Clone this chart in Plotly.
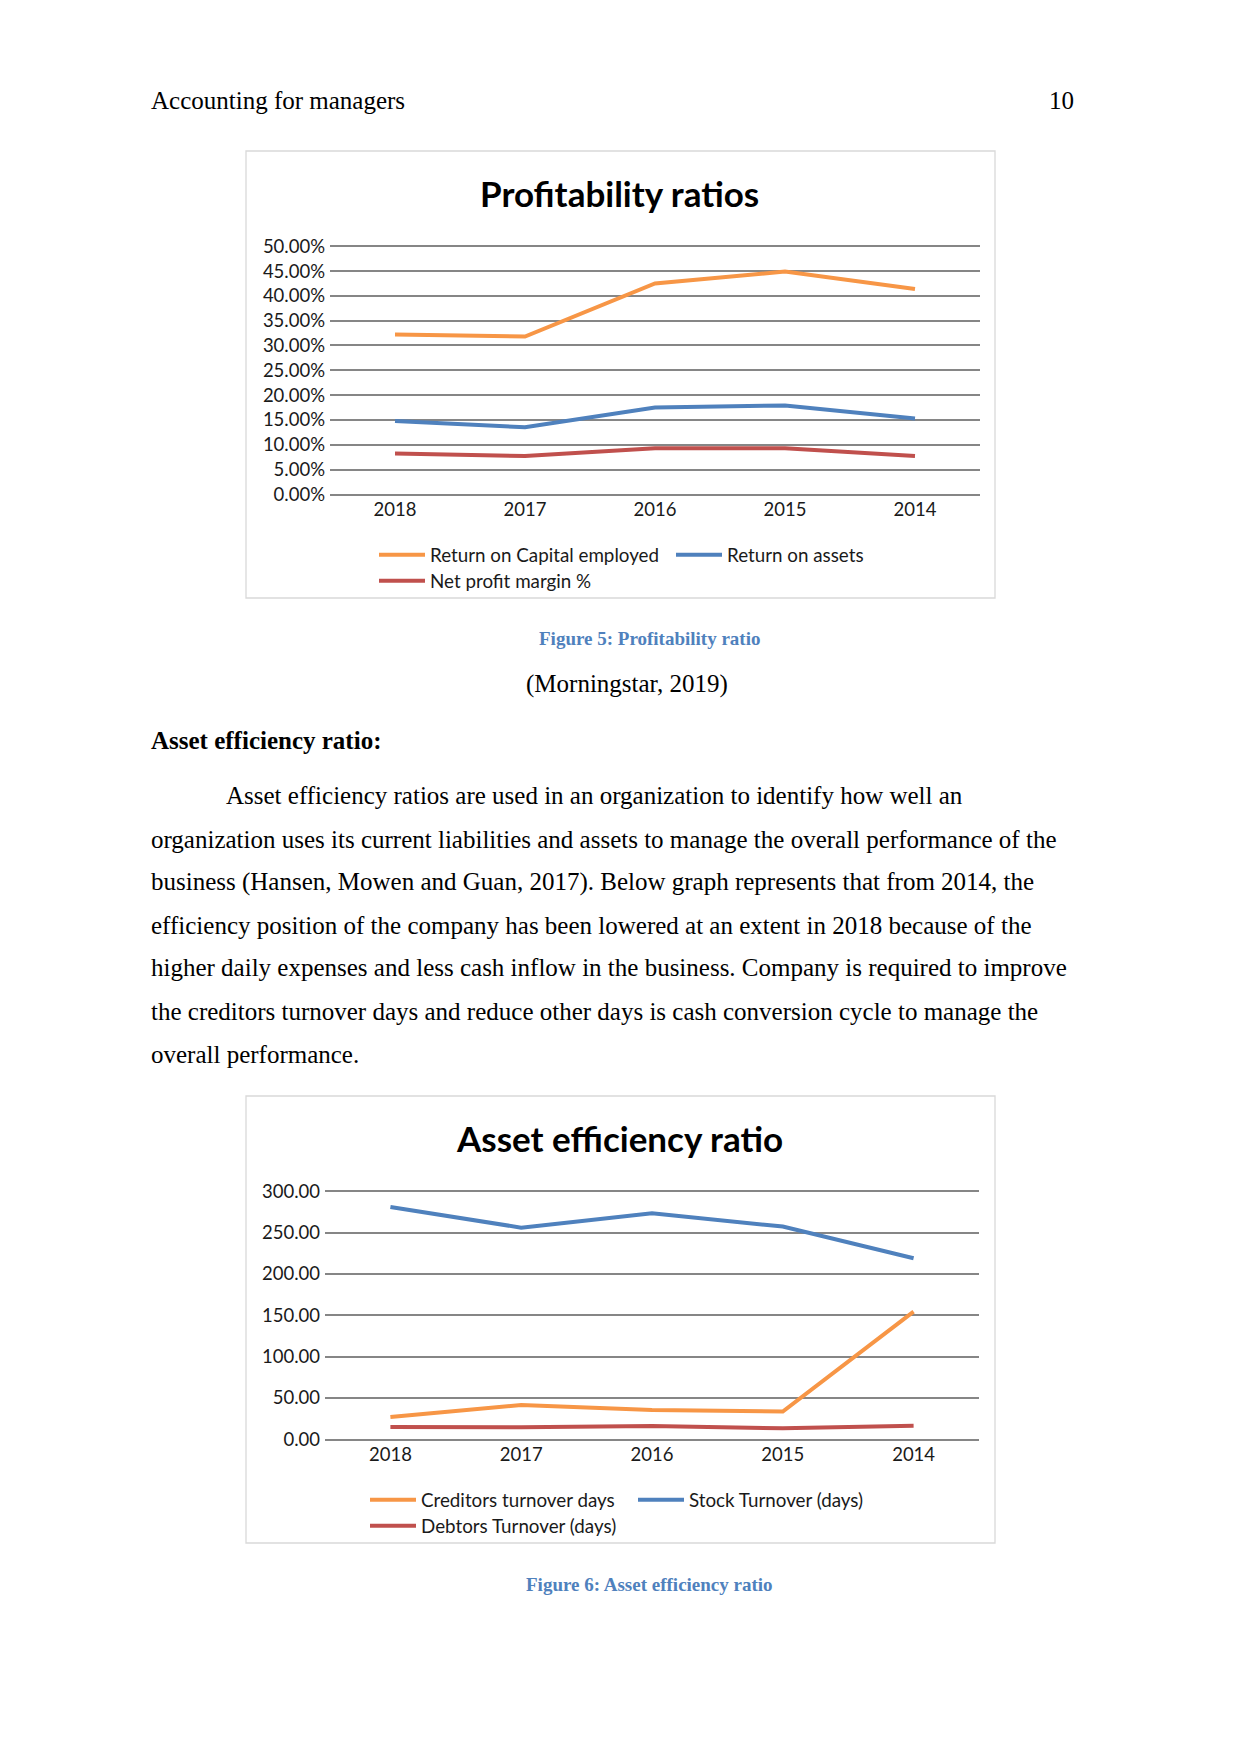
import plotly.graph_objects as go

W, H = 1241, 1754

# ---- data ----
years = ["2018", "2017", "2016", "2015", "2014"]
roce = [0.322, 0.318, 0.425, 0.449, 0.414]
roa = [0.148, 0.135, 0.175, 0.179, 0.153]
npm = [0.082, 0.077, 0.093, 0.093, 0.077]

creditors = [27.0, 41.5, 35.5, 33.5, 154.4]
stock = [281.0, 256.0, 273.4, 257.3, 219.0]
debtors = [14.9, 14.5, 16.1, 13.3, 16.5]

header_left = "Accounting for managers"
header_right = "10"
caption5 = "Figure 5: Profitability ratio"
source5 = "(Morningstar, 2019)"
heading = "Asset efficiency ratio:"
body_lines = [
    "Asset efficiency ratios are used in an organization to identify how well an",
    "organization uses its current liabilities and assets to manage the overall performance of the",
    "business (Hansen, Mowen and Guan, 2017). Below graph represents that from 2014, the",
    "efficiency position of the company has been lowered at an extent in 2018 because of the",
    "higher daily expenses and less cash inflow in the business. Company is required to improve",
    "the creditors turnover days and reduce other days is cash conversion cycle to manage the",
    "overall performance.",
]
caption6 = "Figure 6: Asset efficiency ratio"

# ---- style ----
ORANGE = "#F79646"
BLUE = "#4F81BD"
RED = "#C0504D"
GRID = "#868686"
CAP = "#4F81BD"
CHART_FONT = "Lato"
PAGE_FONT = "Liberation Serif"
TXT = "#1a1a1a"
LW = 4


def fx(x):
    return x / W


def fy(y):
    return 1 - y / H


fig = go.Figure()

# chart 1
fig.add_trace(go.Scatter(x=years, y=roce, name="Return on Capital employed", mode="lines",
                         line=dict(color=ORANGE, width=LW), xaxis="x", yaxis="y", legend="legend"))
fig.add_trace(go.Scatter(x=years, y=roa, name="Return on assets", mode="lines",
                         line=dict(color=BLUE, width=LW), xaxis="x", yaxis="y", legend="legend2"))
fig.add_trace(go.Scatter(x=years, y=npm, name="Net profit margin %", mode="lines",
                         line=dict(color=RED, width=LW), xaxis="x", yaxis="y", legend="legend3"))
# chart 2
fig.add_trace(go.Scatter(x=years, y=creditors, name="Creditors turnover days", mode="lines",
                         line=dict(color=ORANGE, width=LW), xaxis="x2", yaxis="y2", legend="legend4"))
fig.add_trace(go.Scatter(x=years, y=stock, name="Stock Turnover (days)", mode="lines",
                         line=dict(color=BLUE, width=LW), xaxis="x2", yaxis="y2", legend="legend5"))
fig.add_trace(go.Scatter(x=years, y=debtors, name="Debtors Turnover (days)", mode="lines",
                         line=dict(color=RED, width=LW), xaxis="x2", yaxis="y2", legend="legend6"))

tickfont = dict(family=CHART_FONT, size=18.5, color=TXT)

xcommon = dict(type="category", range=[-0.5, 4.5], showgrid=False, showline=True,
               linecolor=GRID, linewidth=1.5, ticks="", tickfont=tickfont, fixedrange=True,
               ticklabelstandoff=-2, automargin=False)
ycommon = dict(showgrid=True, gridcolor=GRID, gridwidth=1.5, zeroline=False, showline=False,
               ticks="", tickfont=tickfont, fixedrange=True, ticklabelstandoff=4, automargin=False)

# plot areas extend slightly above the top gridline so it is drawn
fig.update_layout(
    xaxis=dict(domain=[fx(330), fx(980)], anchor="y", **xcommon),
    yaxis=dict(domain=[fy(494.3), fy(243.8)], anchor="x", range=[0, 0.505], dtick=0.05,
               tickformat=".2%", **ycommon),
    xaxis2=dict(domain=[fx(325), fx(979)], anchor="y2", **xcommon),
    yaxis2=dict(domain=[fy(1439.3), fy(1188.8)], anchor="x2", range=[0, 303], dtick=50,
                tickformat=".2f", **ycommon),
)

legfont = dict(family=CHART_FONT, size=18.8, color=TXT)


def leg(x, y):
    return dict(x=fx(x - 5), y=fy(y), xanchor="left", yanchor="middle", orientation="h",
                bgcolor="rgba(0,0,0,0)", borderwidth=0, font=legfont, itemwidth=46)


fig.update_layout(
    legend=leg(379, 555), legend2=leg(676, 555), legend3=leg(379, 581),
    legend4=leg(370, 1500), legend5=leg(638, 1500), legend6=leg(370, 1526),
)

# boxes around charts
shapes = []
for (y0, y1) in [(151, 598), (1096, 1543)]:
    shapes.append(dict(type="rect", xref="paper", yref="paper", x0=fx(246), x1=fx(995),
                       y0=fy(y1), y1=fy(y0), line=dict(color="#D9D9D9", width=1.3),
                       fillcolor="rgba(0,0,0,0)", layer="below"))

ann = []


def text(x, y, s, size, family=PAGE_FONT, color="#000000", xanchor="left"):
    ann.append(dict(x=fx(x), y=fy(y), xref="paper", yref="paper", text=s, showarrow=False,
                    xanchor=xanchor, yanchor="middle", borderpad=0,
                    font=dict(family=family, size=size, color=color)))


# chart titles
text(619, 193, "<b>Profitability ratios</b>", 35, family=CHART_FONT, color="#000000", xanchor="center")
text(619, 1138, "<b>Asset efficiency ratio</b>", 35, family=CHART_FONT, color="#000000", xanchor="center")

# page text
text(150, 101, header_left, 25)
text(1075, 101, header_right, 25, xanchor="right")
text(649, 638, "<b>" + caption5 + "</b>", 19, color=CAP, xanchor="center")
text(627, 684, source5, 25, xanchor="center")
text(150, 741, "<b>" + heading + "</b>", 25)
line_y = [795.6, 839.3, 881.8, 925.4, 967.9, 1011.6, 1054.1]
for i, (s, yy) in enumerate(zip(body_lines, line_y)):
    text(225 if i == 0 else 150, yy, s, 25)
text(649, 1584, "<b>" + caption6 + "</b>", 19, color=CAP, xanchor="center")

fig.update_layout(
    width=W, height=H, margin=dict(l=0, r=0, t=0, b=0, autoexpand=False),
    paper_bgcolor="white", plot_bgcolor="white",
    shapes=shapes, annotations=ann, showlegend=True,
)

fig.write_html("out.html", post_script="document.body.style.margin='0';",
               config={"displayModeBar": False})
